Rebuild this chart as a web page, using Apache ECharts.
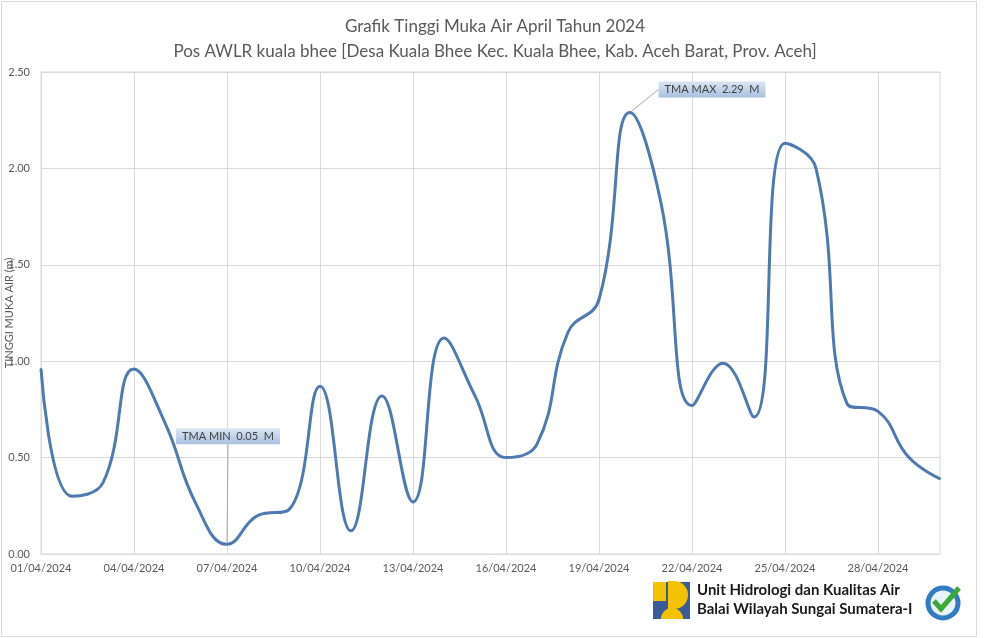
<!DOCTYPE html>
<html>
<head>
<meta charset="utf-8">
<title>Grafik Tinggi Muka Air April 2024</title>
<script src="https://cdn.jsdelivr.net/npm/echarts@6/dist/echarts.min.js"></script>
<style>
  html, body { margin: 0; padding: 0; background: #fff; }
  #chart { width: 984px; height: 638px; }
</style>
</head>
<body>
<div id="chart"></div>
<script>
// tanggal pengamatan (April 2024)
var dates = [
  "01/04/2024", "02/04/2024", "03/04/2024", "04/04/2024", "05/04/2024",
  "06/04/2024", "07/04/2024", "08/04/2024", "09/04/2024", "10/04/2024",
  "11/04/2024", "12/04/2024", "13/04/2024", "14/04/2024", "15/04/2024",
  "16/04/2024", "17/04/2024", "18/04/2024", "19/04/2024", "20/04/2024",
  "21/04/2024", "22/04/2024", "23/04/2024", "24/04/2024", "25/04/2024",
  "26/04/2024", "27/04/2024", "28/04/2024", "29/04/2024", "30/04/2024"
];

// tinggi muka air (m)
var levels = [
  0.96, 0.30, 0.37, 0.96, 0.68, 0.26, 0.05, 0.20, 0.23, 0.87,
  0.12, 0.82, 0.27, 1.12, 0.82, 0.50, 0.57, 1.15, 1.32, 2.29,
  1.82, 0.77, 0.99, 0.71, 2.13, 2.00, 0.78, 0.74, 0.50, 0.39
];

var yTicks = [0, 0.5, 1, 1.5, 2, 2.5];

var titleLines = [
  "Grafik Tinggi Muka Air April Tahun 2024",
  "Pos AWLR kuala bhee [Desa Kuala Bhee Kec. Kuala Bhee, Kab. Aceh Barat, Prov. Aceh]"
];
var footerLines = ["Unit Hidrologi dan Kualitas Air", "Balai Wilayah Sungai Sumatera-I"];

var FONT = "Lato, 'Liberation Sans', sans-serif";
var GREY = "#595959";

// cari index min / max
var minIdx = 0, maxIdx = 0;
levels.forEach(function(v, i) {
  if (v < levels[minIdx]) minIdx = i;
  if (v > levels[maxIdx]) maxIdx = i;
});

var boxStyle = {
  show: true,
  position: "inside",
  color: "#404040",
  fontFamily: FONT,
  fontSize: 11,
  padding: [3, 6, 2, 6],
  backgroundColor: {
    type: "linear", x: 0, y: 0, x2: 0, y2: 1,
    colorStops: [{ offset: 0, color: "#dbe5f3" }, { offset: 1, color: "#a9c0e0" }]
  }
};

var seriesData = levels.map(function(v, i) {
  if (i === minIdx) {
    return { value: v, label: Object.assign({}, boxStyle, { formatter: "TMA MIN  " + v.toFixed(2) + "  M" }) };
  }
  if (i === maxIdx) {
    return { value: v, label: Object.assign({}, boxStyle, { formatter: "TMA MAX  " + v.toFixed(2) + "  M" }) };
  }
  return v;
});

var chart = echarts.init(document.getElementById("chart"));

chart.setOption({
  backgroundColor: "#ffffff",
  animation: false,
  textStyle: { fontFamily: FONT },
  title: {
    text: titleLines.join("\n"),
    left: 490,
    textAlign: "center",
    top: 9,
    textStyle: {
      color: GREY,
      fontFamily: FONT,
      fontSize: 17,
      fontWeight: "normal",
      lineHeight: 25
    }
  },
  grid: {
    left: 41,
    right: 44,
    top: 72,
    bottom: 84,
    containLabel: false,
    outerBoundsMode: "none",
    show: true,
    borderColor: "#d9d9d9",
    borderWidth: 1
  },
  xAxis: {
    type: "category",
    data: dates,
    boundaryGap: false,
    axisLine: { lineStyle: { color: "#d9d9d9" } },
    axisTick: { show: false },
    axisLabel: { interval: 2, color: GREY, fontFamily: FONT, fontSize: 11, margin: 9 },
    splitLine: { show: true, interval: 2, lineStyle: { color: "#d9d9d9" } }
  },
  yAxis: {
    type: "value",
    min: yTicks[0],
    max: yTicks[yTicks.length - 1],
    interval: 0.5,
    name: "TINGGI MUKA AIR (m)",
    nameLocation: "middle",
    nameGap: 26,
    nameMoveOverlap: false,
    nameTextStyle: { color: GREY, fontFamily: FONT, fontSize: 11 },
    axisLine: { show: true, lineStyle: { color: "#d9d9d9" } },
    axisTick: { show: false },
    axisLabel: {
      color: GREY, fontFamily: FONT, fontSize: 11, margin: 11,
      formatter: function(v) { return v.toFixed(2); }
    },
    splitLine: { lineStyle: { color: "#d9d9d9" } }
  },
  series: [{
    type: "line",
    data: seriesData,
    smooth: 0.45,
    symbol: "circle",
    symbolSize: 2,
    showSymbol: true,
    itemStyle: { color: "#4e79b2" },
    lineStyle: { color: "#4e79b2", width: 3 },
    label: { show: false },
    labelLine: { show: true, lineStyle: { color: "#a6a6a6", width: 1 } },
    labelLayout: function(p) {
      if (p.dataIndex === minIdx) return { dx: 1, dy: -108 };
      if (p.dataIndex === maxIdx) return { dx: 82, dy: -23 };
    },
    z: 3
  }],
  graphic: [
    // bingkai luar
    { type: "rect", shape: { x: 1.5, y: 1.5, width: 975, height: 635 },
      style: { fill: null, stroke: "#d9d9d9", lineWidth: 1 }, silent: true },
    // logo PU (sederhana)
    { type: "rect", shape: { x: 653, y: 582, width: 37, height: 37 }, style: { fill: "#3b5a99" } },
    { type: "rect", shape: { x: 653, y: 582, width: 13, height: 19 }, style: { fill: "#f4c300" } },
    { type: "sector", shape: { cx: 674, cy: 595, r0: 0, r: 14, startAngle: -Math.PI / 2, endAngle: Math.PI / 2 },
      style: { fill: "#f4c300" } },
    { type: "rect", shape: { x: 668, y: 581, width: 6, height: 28 }, style: { fill: "#f4c300" } },
    { type: "sector", shape: { cx: 672, cy: 619, r0: 0, r: 11, startAngle: Math.PI, endAngle: Math.PI * 2 },
      style: { fill: "#f4c300" } },
    // teks unit
    { type: "text", left: 697, top: 583,
      style: { text: footerLines[0], fill: "#1a1a1a", font: "bold 15px " + FONT } },
    { type: "text", left: 697, top: 602,
      style: { text: footerLines[1], fill: "#1a1a1a", font: "bold 15px " + FONT } },
    // lencana ISO
    { type: "circle", shape: { cx: 943, cy: 603, r: 15 },
      style: { fill: "#eaf2fb", stroke: "#2f7cc4", lineWidth: 5 } },
    { type: "polyline", shape: { points: [[934, 601], [941, 609], [959, 588]] },
      style: { stroke: "#3aaa35", lineWidth: 5, fill: null } }
  ]
});
</script>
</body>
</html>
